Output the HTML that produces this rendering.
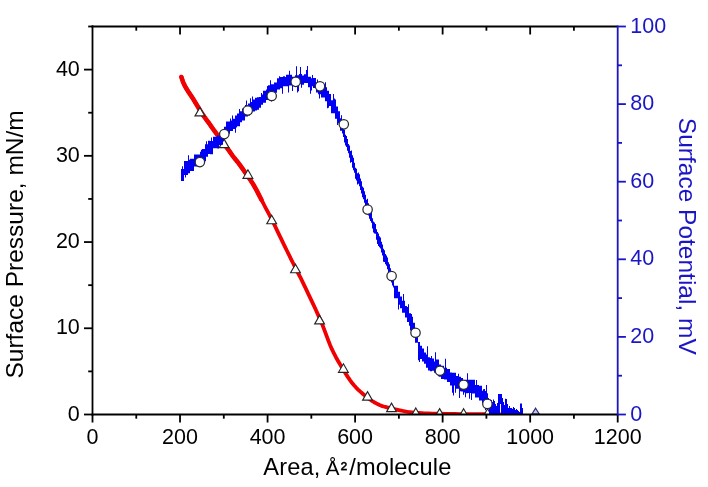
<!DOCTYPE html>
<html><head><meta charset="utf-8"><title>Isotherm</title>
<style>html,body{margin:0;padding:0;background:#fff;width:708px;height:487px;overflow:hidden}svg{display:block}</style>
</head><body>
<svg width="708" height="487" viewBox="0 0 708 487"><rect width="708" height="487" fill="#fff"/><defs><clipPath id="c"><rect x="92.5" y="26.5" width="525.2" height="388.0"/></clipPath></defs><g clip-path="url(#c)"><path d="M181.4,77 L181.59,77.58 L181.84,78.38 L182.14,79.33 L182.48,80.35 L182.84,81.37 L183.2,82.3 L183.57,83.16 L183.96,84.01 L184.36,84.86 L184.79,85.71 L185.23,86.55 L185.7,87.4 L186.19,88.25 L186.7,89.1 L187.24,89.94 L187.79,90.79 L188.34,91.64 L188.9,92.5 L189.47,93.36 L190.06,94.23 L190.66,95.1 L191.25,95.97 L191.84,96.84 L192.4,97.7 L192.94,98.56 L193.46,99.41 L193.98,100.26 L194.48,101.1 L194.99,101.95 L195.5,102.8 L196.02,103.65 L196.53,104.5 L197.05,105.35 L197.57,106.2 L198.08,107.05 L198.6,107.9 L199.11,108.75 L199.61,109.6 L200.12,110.44 L200.63,111.29 L201.15,112.14 L201.7,113 L202.27,113.86 L202.86,114.73 L203.46,115.61 L204.07,116.48 L204.69,117.34 L205.3,118.2 L205.89,119.01 L206.45,119.76 L207.01,120.51 L207.61,121.3 L208.26,122.18 L209,123.2 L209.77,124.29 L210.54,125.39 L211.37,126.59 L212.31,127.94 L213.44,129.52 L214.8,131.4 L216.54,133.75 L218.63,136.56 L220.9,139.6 L223.17,142.64 L225.26,145.45 L227,147.8 L228.33,149.64 L229.38,151.14 L230.25,152.41 L231.04,153.56 L231.86,154.72 L232.8,156 L233.86,157.38 L234.97,158.76 L236.1,160.15 L237.23,161.54 L238.34,162.92 L239.4,164.3 L240.41,165.67 L241.4,167.04 L242.36,168.41 L243.3,169.77 L244.25,171.13 L245.2,172.5 L246.17,173.87 L247.14,175.23 L248.11,176.6 L249.06,177.97 L250,179.33 L250.9,180.7 L251.72,181.97 L252.46,183.12 L253.17,184.27 L253.92,185.54 L254.78,187.05 L255.8,188.9 L257.03,191.19 L258.41,193.85 L259.9,196.74 L261.43,199.74 L262.95,202.7 L264.4,205.5 L265.73,208.03 L266.98,210.37 L268.21,212.69 L269.5,215.13 L270.91,217.84 L272.5,221 L274.33,224.71 L276.34,228.87 L278.48,233.31 L280.67,237.86 L282.83,242.34 L284.9,246.6 L286.93,250.74 L289,254.93 L291.04,259.05 L293.01,263.01 L294.85,266.69 L296.5,270 L297.81,272.57 L298.77,274.41 L299.61,275.99 L300.53,277.74 L301.72,280.13 L303.4,283.6 L305.71,288.43 L308.52,294.31 L311.61,300.83 L314.77,307.56 L317.77,314.09 L320.4,320 L322.63,325.38 L324.64,330.58 L326.49,335.57 L328.26,340.36 L330.04,344.9 L331.9,349.2 L333.84,353.22 L335.8,356.96 L337.76,360.47 L339.71,363.79 L341.63,366.95 L343.5,370 L345.28,372.9 L346.98,375.62 L348.64,378.19 L350.33,380.63 L352.1,382.99 L354,385.3 L356.08,387.58 L358.32,389.8 L360.64,391.93 L362.96,393.95 L365.2,395.82 L367.3,397.5 L369.25,398.99 L371.12,400.3 L372.92,401.47 L374.66,402.51 L376.35,403.44 L378,404.3 L379.56,405.03 L380.99,405.61 L382.38,406.09 L383.79,406.52 L385.31,406.94 L387,407.4 L388.93,407.91 L391.05,408.42 L393.27,408.93 L395.51,409.42 L397.68,409.88 L399.7,410.3 L401.5,410.67 L403.14,411 L404.71,411.31 L406.31,411.59 L408.04,411.85 L410,412.1 L412.11,412.34 L414.28,412.57 L416.58,412.78 L419.09,412.97 L421.87,413.14 L425,413.3 L428.53,413.44 L432.41,413.56 L436.56,413.66 L440.93,413.74 L445.43,413.82 L450,413.9 L454.77,413.97 L459.81,414.03 L465,414.08 L470.19,414.13 L475.23,414.17 L480,414.2 L484.75,414.23 L489.63,414.25 L494.38,414.27 L498.7,414.28 L502.34,414.29 L505,414.3" fill="none" stroke="#f00000" stroke-width="3.8" stroke-linecap="round" stroke-linejoin="round"/><path d="M181.4,77 L181.59,77.58 L181.84,78.38 L182.14,79.33 L182.48,80.35 L182.84,81.37 L183.2,82.3 L183.57,83.16 L183.96,84.01 L184.36,84.86 L184.79,85.71 L185.23,86.55 L185.7,87.4 L186.19,88.25 L186.7,89.1 L187.24,89.94 L187.79,90.79 L188.34,91.64 L188.9,92.5 L189.47,93.36 L190.06,94.23 L190.66,95.1 L191.25,95.97 L191.84,96.84 L192.4,97.7 L192.94,98.56 L193.46,99.41 L193.98,100.26 L194.48,101.1 L194.99,101.95 L195.5,102.8 L196.02,103.65 L196.53,104.5 L197.05,105.35 L197.57,106.2 L198.08,107.05 L198.6,107.9 L199.11,108.75 L199.61,109.6 L200.12,110.44 L200.63,111.29 L201.15,112.14 L201.7,113 L202.27,113.86 L202.86,114.73 L203.46,115.61 L204.07,116.48 L204.69,117.34 L205.3,118.2 L205.89,119.01 L206.45,119.76 L207.01,120.51 L207.61,121.3 L208.26,122.18 L209,123.2 L209.77,124.29 L210.54,125.39 L211.37,126.59 L212.31,127.94 L213.44,129.52 L214.8,131.4 L216.54,133.75 L218.63,136.56 L220.9,139.6 L223.17,142.64 L225.26,145.45 L227,147.8 L228.33,149.64 L229.38,151.14 L230.25,152.41 L231.04,153.56 L231.86,154.72 L232.8,156 L233.86,157.38 L234.97,158.76 L236.1,160.15 L237.23,161.54 L238.34,162.92 L239.4,164.3 L240.41,165.67 L241.4,167.04 L242.36,168.41 L243.3,169.77 L244.25,171.13 L245.2,172.5 L246.17,173.87 L247.14,175.23 L248.11,176.6 L249.06,177.97 L250,179.33 L250.9,180.7 L251.72,181.97 L252.46,183.12 L253.17,184.27 L253.92,185.54 L254.78,187.05 L255.8,188.9 L257.03,191.19 L258.41,193.85 L259.9,196.74 L261.43,199.74" fill="none" stroke="#f00000" stroke-width="4.6" stroke-linecap="round" stroke-linejoin="round"/></g><g clip-path="url(#c)" fill="#fff" stroke="#262626" stroke-width="1.15" stroke-linejoin="miter"><path d="M199.9,107.4 L204.8,115.9 L195,115.9 Z"/><path d="M224.1,139.1 L229,147.6 L219.2,147.6 Z"/><path d="M247.9,169.8 L252.8,178.3 L243,178.3 Z"/><path d="M271.7,215.2 L276.6,223.7 L266.8,223.7 Z"/><path d="M295.5,264.2 L300.4,272.7 L290.6,272.7 Z"/><path d="M319.6,315.4 L324.5,323.9 L314.7,323.9 Z"/><path d="M343.4,363.8 L348.3,372.3 L338.5,372.3 Z"/><path d="M367.5,391.6 L372.4,400.1 L362.6,400.1 Z"/><path d="M391.5,403.1 L396.4,411.6 L386.6,411.6 Z"/><path d="M415.8,408 L420.7,416.5 L410.9,416.5 Z"/><path d="M439.6,408.6 L444.5,417.1 L434.7,417.1 Z"/><path d="M463.6,408.7 L468.5,417.2 L458.7,417.2 Z"/><path d="M487.6,408.8 L492.5,417.3 L482.7,417.3 Z"/><path d="M511.6,408.8 L516.5,417.3 L506.7,417.3 Z"/></g><g clip-path="url(#c)"><path d="M181,168.99h3V180.89h-3ZM182,166.25h1V169.99h-1ZM184,160.88h4V175.1h-4ZM185,174.1h1V177.58h-1ZM188,159.73h2V173.18h-2ZM188,155.27h1V160.73h-1ZM190,158.81h4V170.9h-4ZM194,154.44h4V166.4h-4ZM198,154.44h2V165.78h-2ZM200,151.67h2V165.08h-2ZM201,149.76h1V152.67h-1ZM202,149.12h3V160.98h-3ZM205,144.19h3V156.71h-3ZM205,155.71h1V161.21h-1ZM206,141.31h1V145.19h-1ZM208,140.87h2V154.11h-2ZM210,140.94h3V154.35h-3ZM211,137.48h1V141.94h-1ZM213,136.86h4V148.37h-4ZM217,135.47h2V148.48h-2ZM219,132.57h3V144.95h-3ZM222,129.95h2V140.68h-2ZM222,139.68h1V144.8h-1ZM224,126.73h2V138.49h-2ZM226,121.43h4V133.66h-4ZM230,120.39h3V131.1h-3ZM230,118.54h1V121.39h-1ZM232,115.57h1V121.39h-1ZM233,118.87h2V128.95h-2ZM235,115.42h2V127.48h-2ZM235,126.48h1V132.81h-1ZM237,113.56h3V126.32h-3ZM239,109.05h1V114.56h-1ZM240,111.19h2V122.36h-2ZM242,108.45h3V120.58h-3ZM245,104.96h3V116.4h-3ZM246,100.59h1V105.96h-1ZM248,103.59h2V115.46h-2ZM250,102.1h2V113.92h-2ZM250,98.15h1V103.1h-1ZM252,99.45h3V111.4h-3ZM252,96.45h1V100.45h-1ZM255,97.75h2V110.6h-2ZM257,97.23h2V109.79h-2ZM259,97.08h2V107.84h-2ZM261,94.42h2V104.72h-2ZM261,92.92h1V95.42h-1ZM263,90.84h3V102.75h-3ZM266,89.52h2V100.01h-2ZM267,86.06h1V90.52h-1ZM268,85.16h3V97.77h-3ZM270,80.16h1V86.16h-1ZM271,84.18h3V95.57h-3ZM271,94.57h1V101.55h-1ZM274,82.46h3V92.76h-3ZM277,78.33h3V89.49h-3ZM279,76.27h1V79.33h-1ZM280,76.88h3V88.21h-3ZM282,87.21h1V93.67h-1ZM283,76.15h2V86.26h-2ZM285,77.05h2V86.26h-2ZM286,74.71h1V78.05h-1ZM287,74.63h2V86.33h-2ZM288,85.33h1V92.45h-1ZM289,74.66h3V85.56h-3ZM289,70.76h1V75.66h-1ZM292,76.67h3V85.78h-3ZM292,84.78h1V91.03h-1ZM295,75.16h4V84.06h-4ZM296,66.13h1V76.16h-1ZM297,83.06h1V92.41h-1ZM298,83.06h1V91.14h-1ZM299,73.98h3V83.76h-3ZM300,66.93h1V74.98h-1ZM301,82.76h1V87.77h-1ZM302,75.51h2V84.65h-2ZM304,74.31h4V83.1h-4ZM306,69.91h1V75.31h-1ZM307,65.93h1V75.31h-1ZM308,76.77h3V87.33h-3ZM310,86.33h1V93.83h-1ZM311,78.2h2V86.2h-2ZM311,85.2h1V90.5h-1ZM312,75.01h1V79.2h-1ZM313,78.02h3V88.06h-3ZM316,82.59h2V92.53h-2ZM317,79.58h1V83.59h-1ZM318,84.08h3V94.16h-3ZM319,93.16h1V98.58h-1ZM321,85.87h4V97.45h-4ZM325,90.48h2V101.37h-2ZM325,82.33h1V91.48h-1ZM326,87.15h1V91.48h-1ZM327,90.84h2V103.68h-2ZM327,102.68h1V108.28h-1ZM328,102.68h1V107.65h-1ZM329,94.05h2V105.94h-2ZM331,100.28h4V113.19h-4ZM333,93.95h1V101.28h-1ZM334,98.56h1V101.28h-1ZM335,106.59h3V118.87h-3ZM335,99.61h1V107.59h-1ZM337,117.87h1V124.88h-1ZM338,111.15h2V123.2h-2ZM340,118.21h2V130.67h-2ZM341,115.22h1V119.21h-1ZM342,122.25h1V133.43h-1ZM343,125.3h1V137.09h-1ZM344,129.72h1V142.5h-1ZM345,134.81h1V145.43h-1ZM346,135.89h1V146.93h-1ZM347,139.01h1V150.68h-1ZM348,143.91h1V153.32h-1ZM349,145.39h1V157.7h-1ZM350,151.11h1V162.67h-1ZM351,150.6h1V162.05h-1ZM352,155.17h1V167.67h-1ZM353,157.81h1V170.24h-1ZM354,162.67h1V172.76h-1ZM355,167.87h1V178.67h-1ZM356,168.8h1V180.53h-1ZM357,173.33h1V184.42h-1ZM358,172.51h1V183.75h-1ZM359,174.17h1V186.29h-1ZM360,178.46h1V190.04h-1ZM361,181.28h1V193.48h-1ZM362,186.56h1V197.14h-1ZM363,187.67h1V199.22h-1ZM364,191.14h1V202.82h-1ZM365,194.73h1V205.79h-1ZM366,199.87h1V210.92h-1ZM367,198.85h1V210.25h-1ZM368,203.36h1V215.62h-1ZM369,207.39h1V218.84h-1ZM370,210.65h1V220.99h-1ZM371,211.25h1V222.68h-1ZM372,218.21h1V228.52h-1ZM373,221.42h1V232.5h-1ZM374,222.61h1V233.61h-1ZM375,223.92h1V233.85h-1ZM376,229.34h1V239.79h-1ZM377,232.07h1V243.94h-1ZM378,233.52h1V245.89h-1ZM379,236.17h1V247.34h-1ZM380,237.53h1V248.59h-1ZM381,241.76h1V252.6h-1ZM382,244.52h1V255.6h-1ZM383,248.82h1V261.72h-1ZM384,250.36h1V262.12h-1ZM385,253.99h1V264.21h-1ZM386,255.45h1V265.82h-1ZM387,257.4h1V269.36h-1ZM388,262.2h1V274.07h-1ZM389,264.32h1V275.2h-1ZM390,268.22h1V278.8h-1ZM391,271.89h1V282.38h-1ZM392,273.92h1V285.41h-1ZM393,275.48h1V287.56h-1ZM394,285.69h4V298.14h-4ZM398,291.83h2V304.69h-2ZM398,303.69h1V309.53h-1ZM400,296.51h2V308.21h-2ZM402,300.7h3V312.7h-3ZM403,294h1V301.7h-1ZM405,305.9h2V317.51h-2ZM407,307h2V321.91h-2ZM408,304.17h1V308h-1ZM409,313.3h2V325.76h-2ZM410,324.76h1V330.54h-1ZM411,316.69h2V331.22h-2ZM411,313.96h1V317.69h-1ZM413,322.78h2V335.32h-2ZM415,330.25h3V342.83h-3ZM417,328.41h1V331.25h-1ZM418,342.01h2V354.4h-2ZM418,353.4h1V360.3h-1ZM419,353.4h1V361.9h-1ZM420,345.87h2V359h-2ZM422,348.46h2V361.46h-2ZM424,352.39h2V363.67h-2ZM426,354.49h2V367.72h-2ZM427,346.37h1V355.49h-1ZM428,357.23h2V370.38h-2ZM430,358.04h2V371.22h-2ZM431,356.08h1V359.04h-1ZM432,358.48h2V370.71h-2ZM434,361.52h2V372.66h-2ZM435,352.36h1V362.52h-1ZM436,359.51h3V373.4h-3ZM438,372.4h1V376.35h-1ZM439,364.5h2V376.63h-2ZM441,365.74h3V379.1h-3ZM444,367.65h3V379.5h-3ZM445,358.64h1V368.65h-1ZM447,369.02h3V381.89h-3ZM450,372.43h2V385.49h-2ZM452,372.64h4V385.54h-4ZM452,384.54h1V392.86h-1ZM453,384.54h1V395.42h-1ZM455,384.54h1V392.8h-1ZM456,376.07h3V388.86h-3ZM458,373.86h1V377.07h-1ZM459,376.74h2V391.33h-2ZM459,390.33h1V398.1h-1ZM461,377.99h2V391.4h-2ZM463,379.97h2V392.41h-2ZM463,391.41h1V394.74h-1ZM465,379.63h3V393.14h-3ZM465,392.14h1V397.17h-1ZM467,373.37h1V380.63h-1ZM468,379.79h3V393.11h-3ZM469,392.11h1V398.69h-1ZM471,379.86h4V393.44h-4ZM471,392.44h1V400.01h-1ZM475,384.96h4V397.61h-4ZM476,379.92h1V385.96h-1ZM479,385.67h3V400.42h-3ZM482,390.74h2V403.46h-2ZM483,389.18h1V391.74h-1ZM484,391.1h3V403.82h-3ZM484,389.04h1V392.1h-1ZM485,402.82h1V410.15h-1ZM486,385.05h1V392.1h-1ZM487,393.25h1V406.08h-1ZM488,398h1V406h-1ZM489,401h1V414h-1ZM490,399.6h1V414h-1ZM491,400h1V414h-1ZM492,402h1V414h-1ZM493,399.6h1V414h-1ZM494,401h1V414h-1ZM495,404h1V414h-1ZM496,406h1V414h-1ZM497,403h1V414h-1ZM498,394h1V414h-1ZM499,394h1V414h-1ZM500,394h1V404h-1ZM501,394h1V414h-1ZM502,398h1V414h-1ZM503,402h1V414h-1ZM504,405h1V414h-1ZM505,398.7h1V414h-1ZM506,399h1V414h-1ZM507,404h1V414h-1ZM508,408h1V414h-1ZM509,406h1V414h-1ZM510,408h1V414h-1ZM511,408h1V414h-1ZM512,409h1V414h-1ZM513,407h1V414h-1ZM514,408h1V414h-1ZM515,410h1V414h-1ZM516,409h1V414h-1ZM517,410h1V414h-1ZM518,411h1V414h-1ZM519,412h1V414h-1ZM520,403.4h1V414h-1ZM521,403.4h1V414h-1ZM522,408h1V414h-1Z" fill="#0000f5" stroke="none"/></g><path d="M535.6,408.2 L539.2,414 L532,414 Z" fill="#c8c8e8" stroke="#2c2c78" stroke-width="1.2"/><g fill="#fff" stroke="#2a2a2a" stroke-width="1.25"><circle cx="199.9" cy="162.1" r="4.7"/><circle cx="224.3" cy="134.1" r="4.7"/><circle cx="247.7" cy="110.5" r="4.7"/><circle cx="271.7" cy="96" r="4.7"/><circle cx="295.7" cy="81.8" r="4.7"/><circle cx="320" cy="86.3" r="4.7"/><circle cx="343.8" cy="124.3" r="4.7"/><circle cx="367.6" cy="209.6" r="4.7"/><circle cx="391.6" cy="276" r="4.7"/><circle cx="415.5" cy="332.7" r="4.7"/><circle cx="440" cy="370.8" r="4.7"/><circle cx="463.6" cy="384.7" r="4.7"/><circle cx="487.4" cy="403.9" r="4.7"/></g><g stroke="#000" stroke-width="1.8" fill="none"><line x1="91.6" y1="26.5" x2="617.7" y2="26.5"/><line x1="91.6" y1="414.5" x2="617.7" y2="414.5"/><line x1="92.5" y1="25.6" x2="92.5" y2="415.4"/><line x1="92.5" y1="414.5" x2="92.5" y2="422.5"/><line x1="136.27" y1="414.5" x2="136.27" y2="418.7"/><line x1="136.27" y1="26.5" x2="136.27" y2="30.7"/><line x1="180.03" y1="414.5" x2="180.03" y2="422.5"/><line x1="180.03" y1="26.5" x2="180.03" y2="34.5"/><line x1="223.8" y1="414.5" x2="223.8" y2="418.7"/><line x1="223.8" y1="26.5" x2="223.8" y2="30.7"/><line x1="267.57" y1="414.5" x2="267.57" y2="422.5"/><line x1="267.57" y1="26.5" x2="267.57" y2="34.5"/><line x1="311.33" y1="414.5" x2="311.33" y2="418.7"/><line x1="311.33" y1="26.5" x2="311.33" y2="30.7"/><line x1="355.1" y1="414.5" x2="355.1" y2="422.5"/><line x1="355.1" y1="26.5" x2="355.1" y2="34.5"/><line x1="398.87" y1="414.5" x2="398.87" y2="418.7"/><line x1="398.87" y1="26.5" x2="398.87" y2="30.7"/><line x1="442.63" y1="414.5" x2="442.63" y2="422.5"/><line x1="442.63" y1="26.5" x2="442.63" y2="34.5"/><line x1="486.4" y1="414.5" x2="486.4" y2="418.7"/><line x1="486.4" y1="26.5" x2="486.4" y2="30.7"/><line x1="530.17" y1="414.5" x2="530.17" y2="422.5"/><line x1="530.17" y1="26.5" x2="530.17" y2="34.5"/><line x1="573.93" y1="414.5" x2="573.93" y2="418.7"/><line x1="573.93" y1="26.5" x2="573.93" y2="30.7"/><line x1="617.7" y1="414.5" x2="617.7" y2="422.5"/><line x1="84" y1="414.5" x2="92.5" y2="414.5"/><line x1="88.2" y1="371.39" x2="92.5" y2="371.39"/><line x1="84" y1="328.28" x2="92.5" y2="328.28"/><line x1="88.2" y1="285.17" x2="92.5" y2="285.17"/><line x1="84" y1="242.06" x2="92.5" y2="242.06"/><line x1="88.2" y1="198.94" x2="92.5" y2="198.94"/><line x1="84" y1="155.83" x2="92.5" y2="155.83"/><line x1="88.2" y1="112.72" x2="92.5" y2="112.72"/><line x1="84" y1="69.61" x2="92.5" y2="69.61"/><line x1="88.2" y1="26.5" x2="92.5" y2="26.5"/></g><g stroke="#1a16c4" stroke-width="1.8" fill="none"><line x1="617.7" y1="25.6" x2="617.7" y2="415.4"/><line x1="617.7" y1="414.5" x2="625.9" y2="414.5"/><line x1="617.7" y1="375.7" x2="622" y2="375.7"/><line x1="617.7" y1="336.9" x2="625.9" y2="336.9"/><line x1="617.7" y1="298.1" x2="622" y2="298.1"/><line x1="617.7" y1="259.3" x2="625.9" y2="259.3"/><line x1="617.7" y1="220.5" x2="622" y2="220.5"/><line x1="617.7" y1="181.7" x2="625.9" y2="181.7"/><line x1="617.7" y1="142.9" x2="622" y2="142.9"/><line x1="617.7" y1="104.1" x2="625.9" y2="104.1"/><line x1="617.7" y1="65.3" x2="622" y2="65.3"/><line x1="617.7" y1="26.5" x2="625.9" y2="26.5"/></g><g font-family="'Liberation Sans', sans-serif" font-size="21.5" fill="#000"><text x="92.5" y="443.6" text-anchor="middle">0</text><text x="180.03" y="443.6" text-anchor="middle">200</text><text x="267.57" y="443.6" text-anchor="middle">400</text><text x="355.1" y="443.6" text-anchor="middle">600</text><text x="442.63" y="443.6" text-anchor="middle">800</text><text x="530.17" y="443.6" text-anchor="middle">1000</text><text x="617.7" y="443.6" text-anchor="middle">1200</text><text x="79.8" y="420.6" text-anchor="end">0</text><text x="79.8" y="334.38" text-anchor="end">10</text><text x="79.8" y="248.16" text-anchor="end">20</text><text x="79.8" y="161.93" text-anchor="end">30</text><text x="79.8" y="75.71" text-anchor="end">40</text></g><g font-family="'Liberation Sans', sans-serif" font-size="21.5" fill="#1a16c4"><text x="630.3" y="420.6">0</text><text x="630.3" y="343">20</text><text x="630.3" y="265.4">40</text><text x="630.3" y="187.8">60</text><text x="630.3" y="110.2">80</text><text x="630.3" y="32.6">100</text></g><text font-family="'Liberation Sans', sans-serif" font-size="23.6" x="263.3" y="474.6" fill="#000" letter-spacing="0.15">Area, <tspan font-size="20.5" dx="-1.3">Å</tspan><tspan font-size="19" stroke="#000" stroke-width="0.45" dx="1.0" dy="0.4">²</tspan><tspan dx="2.0" dy="-0.4">/molecule</tspan></text><text font-family="'Liberation Sans', sans-serif" font-size="24.5" fill="#000" text-anchor="middle" transform="translate(23.2,244.4) rotate(-90)">Surface Pressure, mN/m</text><text font-family="'Liberation Sans', sans-serif" font-size="24.5" fill="#1a16c4" text-anchor="middle" transform="translate(678.8,236.3) rotate(90)">Surface Potential, mV</text></svg>
</body></html>
